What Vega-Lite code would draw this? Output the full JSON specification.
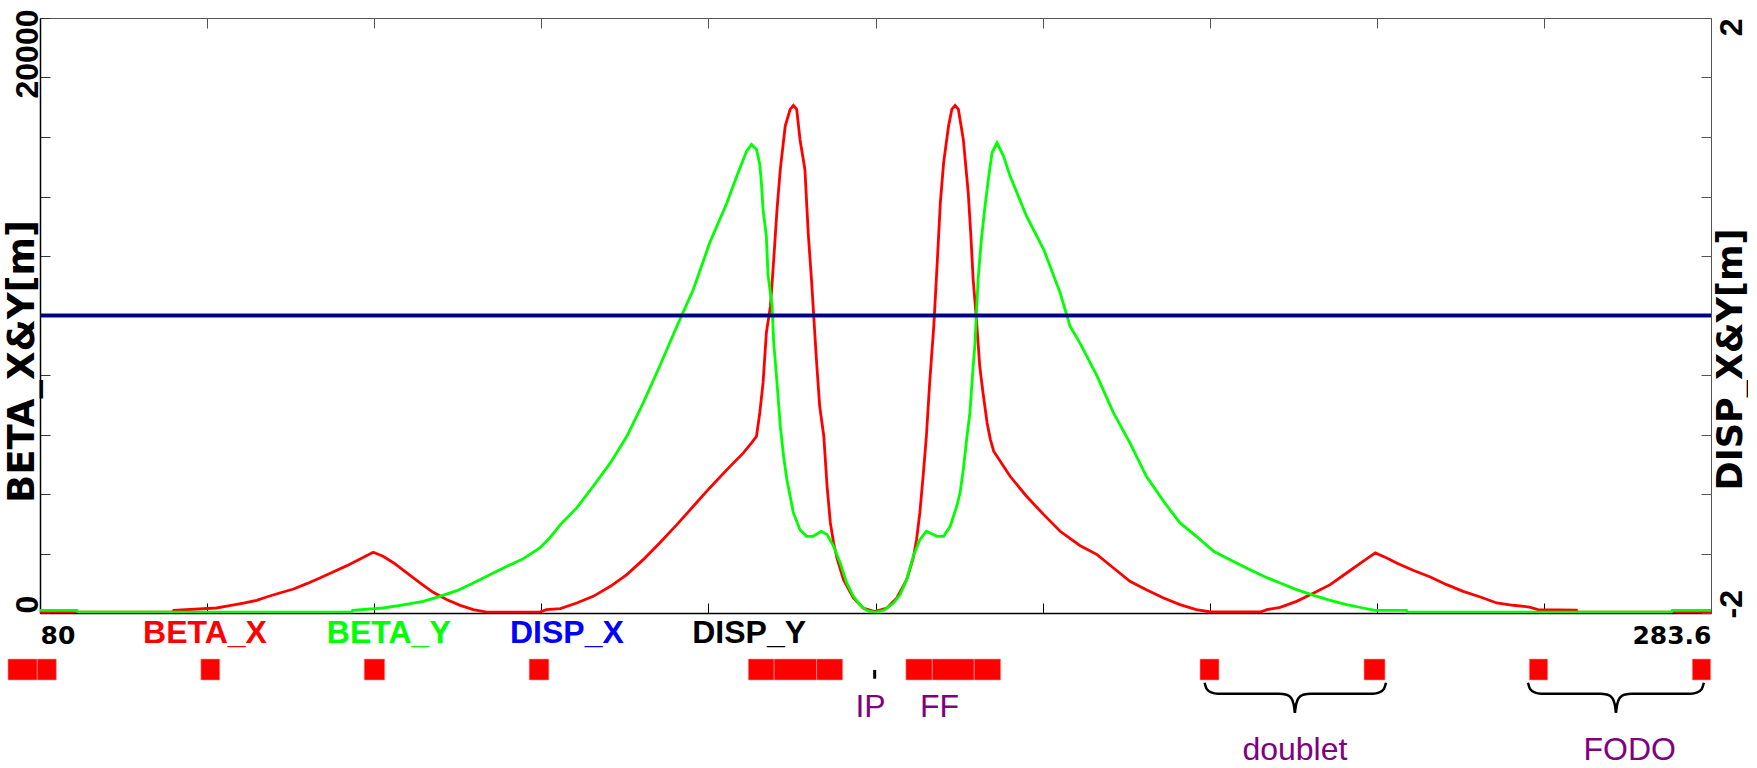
{
  "$schema": "https://vega.github.io/schema/vega-lite/v6.json",
  "background": "white",
  "padding": {"left": 3, "top": 8, "right": 0, "bottom": 0},
  "bounds": "flush",
  "spacing": 25,
  "config": {"view": {"stroke": null}},
  "datasets": {
    "beta": [
      {"curve": "BETA_X", "s": 80, "beta": 30}, {"curve": "BETA_X", "s": 96.2, "beta": 30}, {"curve": "BETA_X", "s": 96.3, "beta": 90},
      {"curve": "BETA_X", "s": 101.5, "beta": 168}, {"curve": "BETA_X", "s": 103.1, "beta": 247}, {"curve": "BETA_X", "s": 104.8, "beta": 336},
      {"curve": "BETA_X", "s": 106.4, "beta": 426}, {"curve": "BETA_X", "s": 107.6, "beta": 538}, {"curve": "BETA_X", "s": 109.2, "beta": 673},
      {"curve": "BETA_X", "s": 110.9, "beta": 807}, {"curve": "BETA_X", "s": 112.5, "beta": 986}, {"curve": "BETA_X", "s": 114.1, "beta": 1177},
      {"curve": "BETA_X", "s": 115.7, "beta": 1379}, {"curve": "BETA_X", "s": 117.4, "beta": 1592}, {"curve": "BETA_X", "s": 119.0, "beta": 1816},
      {"curve": "BETA_X", "s": 120.6, "beta": 2040}, {"curve": "BETA_X", "s": 121.8, "beta": 1906}, {"curve": "BETA_X", "s": 123.1, "beta": 1682},
      {"curve": "BETA_X", "s": 124.7, "beta": 1345}, {"curve": "BETA_X", "s": 126.3, "beta": 1009}, {"curve": "BETA_X", "s": 127.9, "beta": 695},
      {"curve": "BETA_X", "s": 129.6, "beta": 448}, {"curve": "BETA_X", "s": 131.2, "beta": 258}, {"curve": "BETA_X", "s": 132.8, "beta": 112},
      {"curve": "BETA_X", "s": 134.4, "beta": 30}, {"curve": "BETA_X", "s": 140.9, "beta": 30}, {"curve": "BETA_X", "s": 141.7, "beta": 112},
      {"curve": "BETA_X", "s": 143.4, "beta": 150}, {"curve": "BETA_X", "s": 145.4, "beta": 336}, {"curve": "BETA_X", "s": 147.4, "beta": 560},
      {"curve": "BETA_X", "s": 149.5, "beta": 897}, {"curve": "BETA_X", "s": 151.5, "beta": 1289}, {"curve": "BETA_X", "s": 153.5, "beta": 1794},
      {"curve": "BETA_X", "s": 155.5, "beta": 2354}, {"curve": "BETA_X", "s": 157.6, "beta": 2971}, {"curve": "BETA_X", "s": 159.6, "beta": 3587},
      {"curve": "BETA_X", "s": 161.6, "beta": 4204}, {"curve": "BETA_X", "s": 163.7, "beta": 4820}, {"curve": "BETA_X", "s": 165.7, "beta": 5381},
      {"curve": "BETA_X", "s": 166.7, "beta": 5717}, {"curve": "BETA_X", "s": 167.3, "beta": 5941}, {"curve": "BETA_X", "s": 167.7, "beta": 6726},
      {"curve": "BETA_X", "s": 168.1, "beta": 7735}, {"curve": "BETA_X", "s": 168.5, "beta": 9416}, {"curve": "BETA_X", "s": 169.0, "beta": 10313},
      {"curve": "BETA_X", "s": 169.4, "beta": 11883}, {"curve": "BETA_X", "s": 169.8, "beta": 13564}, {"curve": "BETA_X", "s": 170.2, "beta": 14909},
      {"curve": "BETA_X", "s": 170.8, "beta": 16367}, {"curve": "BETA_X", "s": 171.4, "beta": 16927}, {"curve": "BETA_X", "s": 171.8, "beta": 17061},
      {"curve": "BETA_X", "s": 172.2, "beta": 16927}, {"curve": "BETA_X", "s": 172.6, "beta": 15918}, {"curve": "BETA_X", "s": 173.2, "beta": 14909},
      {"curve": "BETA_X", "s": 173.6, "beta": 12779}, {"curve": "BETA_X", "s": 174.0, "beta": 11210}, {"curve": "BETA_X", "s": 174.3, "beta": 9865},
      {"curve": "BETA_X", "s": 174.6, "beta": 8520}, {"curve": "BETA_X", "s": 175.0, "beta": 6950}, {"curve": "BETA_X", "s": 175.5, "beta": 5941},
      {"curve": "BETA_X", "s": 175.9, "beta": 4260}, {"curve": "BETA_X", "s": 176.3, "beta": 3027}, {"curve": "BETA_X", "s": 176.7, "beta": 2354},
      {"curve": "BETA_X", "s": 177.1, "beta": 1850}, {"curve": "BETA_X", "s": 177.9, "beta": 1121}, {"curve": "BETA_X", "s": 179.1, "beta": 504},
      {"curve": "BETA_X", "s": 180.3, "beta": 168}, {"curve": "BETA_X", "s": 181.7, "beta": 45}, {"curve": "BETA_X", "s": 183.2, "beta": 168},
      {"curve": "BETA_X", "s": 184.4, "beta": 504}, {"curve": "BETA_X", "s": 185.6, "beta": 1121}, {"curve": "BETA_X", "s": 186.4, "beta": 1850},
      {"curve": "BETA_X", "s": 186.8, "beta": 2466}, {"curve": "BETA_X", "s": 187.2, "beta": 3363}, {"curve": "BETA_X", "s": 187.6, "beta": 4596},
      {"curve": "BETA_X", "s": 188.0, "beta": 5941}, {"curve": "BETA_X", "s": 188.4, "beta": 7735}, {"curve": "BETA_X", "s": 188.9, "beta": 9641},
      {"curve": "BETA_X", "s": 189.3, "beta": 11658}, {"curve": "BETA_X", "s": 189.7, "beta": 13789}, {"curve": "BETA_X", "s": 190.1, "beta": 15134},
      {"curve": "BETA_X", "s": 190.7, "beta": 16367}, {"curve": "BETA_X", "s": 191.1, "beta": 16927}, {"curve": "BETA_X", "s": 191.5, "beta": 17061},
      {"curve": "BETA_X", "s": 191.9, "beta": 16927}, {"curve": "BETA_X", "s": 192.5, "beta": 15918}, {"curve": "BETA_X", "s": 193.1, "beta": 14125},
      {"curve": "BETA_X", "s": 193.4, "beta": 12779}, {"curve": "BETA_X", "s": 193.7, "beta": 11210}, {"curve": "BETA_X", "s": 194.1, "beta": 9865},
      {"curve": "BETA_X", "s": 194.5, "beta": 8295}, {"curve": "BETA_X", "s": 194.9, "beta": 7399}, {"curve": "BETA_X", "s": 195.4, "beta": 6390},
      {"curve": "BETA_X", "s": 195.8, "beta": 5829}, {"curve": "BETA_X", "s": 196.2, "beta": 5437}, {"curve": "BETA_X", "s": 198.2, "beta": 4596},
      {"curve": "BETA_X", "s": 200.2, "beta": 3924}, {"curve": "BETA_X", "s": 202.3, "beta": 3307}, {"curve": "BETA_X", "s": 204.3, "beta": 2746},
      {"curve": "BETA_X", "s": 206.7, "beta": 2270}, {"curve": "BETA_X", "s": 208.8, "beta": 1962}, {"curve": "BETA_X", "s": 210.8, "beta": 1513},
      {"curve": "BETA_X", "s": 212.8, "beta": 1065}, {"curve": "BETA_X", "s": 214.8, "beta": 785}, {"curve": "BETA_X", "s": 216.9, "beta": 504},
      {"curve": "BETA_X", "s": 218.9, "beta": 280}, {"curve": "BETA_X", "s": 220.9, "beta": 112}, {"curve": "BETA_X", "s": 222.6, "beta": 34},
      {"curve": "BETA_X", "s": 228.7, "beta": 34}, {"curve": "BETA_X", "s": 229.5, "beta": 112}, {"curve": "BETA_X", "s": 231.1, "beta": 191},
      {"curve": "BETA_X", "s": 233.1, "beta": 392}, {"curve": "BETA_X", "s": 235.2, "beta": 673}, {"curve": "BETA_X", "s": 237.2, "beta": 953},
      {"curve": "BETA_X", "s": 239.2, "beta": 1345}, {"curve": "BETA_X", "s": 241.2, "beta": 1738}, {"curve": "BETA_X", "s": 242.7, "beta": 2018},
      {"curve": "BETA_X", "s": 244.1, "beta": 1850}, {"curve": "BETA_X", "s": 245.3, "beta": 1682}, {"curve": "BETA_X", "s": 247.3, "beta": 1435},
      {"curve": "BETA_X", "s": 249.4, "beta": 1211}, {"curve": "BETA_X", "s": 251.4, "beta": 953}, {"curve": "BETA_X", "s": 253.4, "beta": 729},
      {"curve": "BETA_X", "s": 255.5, "beta": 538}, {"curve": "BETA_X", "s": 257.5, "beta": 336}, {"curve": "BETA_X", "s": 259.5, "beta": 260},
      {"curve": "BETA_X", "s": 261.5, "beta": 200}, {"curve": "BETA_X", "s": 262.5, "beta": 112}, {"curve": "BETA_X", "s": 267.2, "beta": 100},
      {"curve": "BETA_X", "s": 267.3, "beta": 30}, {"curve": "BETA_X", "s": 283.6, "beta": 30},

      {"curve": "BETA_Y", "s": 80, "beta": 90}, {"curve": "BETA_Y", "s": 84.5, "beta": 90}, {"curve": "BETA_Y", "s": 84.6, "beta": 30},
      {"curve": "BETA_Y", "s": 118.0, "beta": 30}, {"curve": "BETA_Y", "s": 118.1, "beta": 90}, {"curve": "BETA_Y", "s": 121.8, "beta": 168},
      {"curve": "BETA_Y", "s": 123.9, "beta": 258}, {"curve": "BETA_Y", "s": 126.7, "beta": 392}, {"curve": "BETA_Y", "s": 128.7, "beta": 560},
      {"curve": "BETA_Y", "s": 130.8, "beta": 751}, {"curve": "BETA_Y", "s": 132.8, "beta": 1009}, {"curve": "BETA_Y", "s": 134.8, "beta": 1289},
      {"curve": "BETA_Y", "s": 136.9, "beta": 1569}, {"curve": "BETA_Y", "s": 138.9, "beta": 1827}, {"curve": "BETA_Y", "s": 140.9, "beta": 2186},
      {"curve": "BETA_Y", "s": 142.1, "beta": 2522}, {"curve": "BETA_Y", "s": 143.4, "beta": 2971}, {"curve": "BETA_Y", "s": 145.4, "beta": 3531},
      {"curve": "BETA_Y", "s": 147.4, "beta": 4260}, {"curve": "BETA_Y", "s": 149.5, "beta": 5045}, {"curve": "BETA_Y", "s": 151.5, "beta": 5941},
      {"curve": "BETA_Y", "s": 153.5, "beta": 7062}, {"curve": "BETA_Y", "s": 155.5, "beta": 8295}, {"curve": "BETA_Y", "s": 157.6, "beta": 9641},
      {"curve": "BETA_Y", "s": 159.6, "beta": 10874}, {"curve": "BETA_Y", "s": 161.6, "beta": 12443}, {"curve": "BETA_Y", "s": 163.7, "beta": 13789},
      {"curve": "BETA_Y", "s": 164.9, "beta": 14686}, {"curve": "BETA_Y", "s": 166.1, "beta": 15526}, {"curve": "BETA_Y", "s": 166.7, "beta": 15750},
      {"curve": "BETA_Y", "s": 167.3, "beta": 15582}, {"curve": "BETA_Y", "s": 167.7, "beta": 15077}, {"curve": "BETA_Y", "s": 167.9, "beta": 14451},
      {"curve": "BETA_Y", "s": 168.1, "beta": 13565}, {"curve": "BETA_Y", "s": 168.5, "beta": 12667}, {"curve": "BETA_Y", "s": 168.7, "beta": 11378},
      {"curve": "BETA_Y", "s": 169.2, "beta": 10313}, {"curve": "BETA_Y", "s": 169.4, "beta": 9080}, {"curve": "BETA_Y", "s": 169.8, "beta": 7735},
      {"curve": "BETA_Y", "s": 170.2, "beta": 6278}, {"curve": "BETA_Y", "s": 170.6, "beta": 5269}, {"curve": "BETA_Y", "s": 171.0, "beta": 4484},
      {"curve": "BETA_Y", "s": 171.4, "beta": 3924}, {"curve": "BETA_Y", "s": 171.8, "beta": 3363}, {"curve": "BETA_Y", "s": 172.6, "beta": 2802},
      {"curve": "BETA_Y", "s": 173.4, "beta": 2578}, {"curve": "BETA_Y", "s": 174.2, "beta": 2578}, {"curve": "BETA_Y", "s": 175.2, "beta": 2746},
      {"curve": "BETA_Y", "s": 175.9, "beta": 2634}, {"curve": "BETA_Y", "s": 176.7, "beta": 2242}, {"curve": "BETA_Y", "s": 177.5, "beta": 1682},
      {"curve": "BETA_Y", "s": 178.3, "beta": 1009}, {"curve": "BETA_Y", "s": 179.1, "beta": 560}, {"curve": "BETA_Y", "s": 179.9, "beta": 280},
      {"curve": "BETA_Y", "s": 180.7, "beta": 90}, {"curve": "BETA_Y", "s": 181.7, "beta": 20}, {"curve": "BETA_Y", "s": 182.8, "beta": 90},
      {"curve": "BETA_Y", "s": 184.0, "beta": 336}, {"curve": "BETA_Y", "s": 184.8, "beta": 617}, {"curve": "BETA_Y", "s": 185.6, "beta": 1121},
      {"curve": "BETA_Y", "s": 186.4, "beta": 1906}, {"curve": "BETA_Y", "s": 187.2, "beta": 2466}, {"curve": "BETA_Y", "s": 188.0, "beta": 2746},
      {"curve": "BETA_Y", "s": 189.3, "beta": 2578}, {"curve": "BETA_Y", "s": 190.1, "beta": 2578}, {"curve": "BETA_Y", "s": 190.9, "beta": 2915},
      {"curve": "BETA_Y", "s": 191.7, "beta": 3587}, {"curve": "BETA_Y", "s": 192.1, "beta": 4036}, {"curve": "BETA_Y", "s": 192.5, "beta": 4820},
      {"curve": "BETA_Y", "s": 192.9, "beta": 5829}, {"curve": "BETA_Y", "s": 193.3, "beta": 6726}, {"curve": "BETA_Y", "s": 193.7, "beta": 8295},
      {"curve": "BETA_Y", "s": 193.9, "beta": 8968}, {"curve": "BETA_Y", "s": 194.1, "beta": 10089}, {"curve": "BETA_Y", "s": 194.3, "beta": 11210},
      {"curve": "BETA_Y", "s": 194.7, "beta": 12555}, {"curve": "BETA_Y", "s": 195.1, "beta": 13565}, {"curve": "BETA_Y", "s": 195.6, "beta": 14686},
      {"curve": "BETA_Y", "s": 196.0, "beta": 15470}, {"curve": "BETA_Y", "s": 196.6, "beta": 15806}, {"curve": "BETA_Y", "s": 197.4, "beta": 15358},
      {"curve": "BETA_Y", "s": 198.2, "beta": 14686}, {"curve": "BETA_Y", "s": 200.2, "beta": 13341}, {"curve": "BETA_Y", "s": 202.3, "beta": 12219},
      {"curve": "BETA_Y", "s": 204.3, "beta": 10762}, {"curve": "BETA_Y", "s": 205.5, "beta": 9641}, {"curve": "BETA_Y", "s": 206.7, "beta": 9080},
      {"curve": "BETA_Y", "s": 208.8, "beta": 7959}, {"curve": "BETA_Y", "s": 210.8, "beta": 6726}, {"curve": "BETA_Y", "s": 212.8, "beta": 5717},
      {"curve": "BETA_Y", "s": 214.8, "beta": 4596}, {"curve": "BETA_Y", "s": 216.9, "beta": 3755}, {"curve": "BETA_Y", "s": 218.9, "beta": 3027},
      {"curve": "BETA_Y", "s": 220.9, "beta": 2578}, {"curve": "BETA_Y", "s": 223.0, "beta": 2074}, {"curve": "BETA_Y", "s": 225.0, "beta": 1794},
      {"curve": "BETA_Y", "s": 227.0, "beta": 1513}, {"curve": "BETA_Y", "s": 229.1, "beta": 1233}, {"curve": "BETA_Y", "s": 231.1, "beta": 1009},
      {"curve": "BETA_Y", "s": 233.1, "beta": 785}, {"curve": "BETA_Y", "s": 235.2, "beta": 594}, {"curve": "BETA_Y", "s": 237.2, "beta": 426},
      {"curve": "BETA_Y", "s": 239.2, "beta": 280}, {"curve": "BETA_Y", "s": 241.2, "beta": 168}, {"curve": "BETA_Y", "s": 242.7, "beta": 90},
      {"curve": "BETA_Y", "s": 246.5, "beta": 90}, {"curve": "BETA_Y", "s": 246.6, "beta": 30}, {"curve": "BETA_Y", "s": 278.8, "beta": 30},
      {"curve": "BETA_Y", "s": 278.9, "beta": 90}, {"curve": "BETA_Y", "s": 283.6, "beta": 90}
    ],
    "disp": [
      {"curve": "DISP_X", "s": 80, "disp": 0}, {"curve": "DISP_X", "s": 283.6, "disp": 0},
      {"curve": "DISP_Y", "s": 80, "disp": 0}, {"curve": "DISP_Y", "s": 283.6, "disp": 0}
    ],
    "legend": [
      {"curve": "BETA_X", "s": 100.1}, {"curve": "BETA_Y", "s": 122.5},
      {"curve": "DISP_X", "s": 144.2}, {"curve": "DISP_Y", "s": 166.4}
    ],
    "elements": [
      {"name": "Q0a", "s0": 76.1, "s1": 79.67}, {"name": "Q0b", "s0": 79.67, "s1": 81.99},
      {"name": "Q1", "s0": 99.6, "s1": 101.9}, {"name": "Q2", "s0": 119.5, "s1": 122.0},
      {"name": "Q3", "s0": 139.6, "s1": 142.0},
      {"name": "FF1L", "s0": 166.3, "s1": 169.45}, {"name": "FF2L", "s0": 169.45, "s1": 174.63}, {"name": "FF3L", "s0": 174.63, "s1": 177.8},
      {"name": "FF3R", "s0": 185.5, "s1": 188.72}, {"name": "FF2R", "s0": 188.72, "s1": 193.83}, {"name": "FF1R", "s0": 193.83, "s1": 197.05},
      {"name": "D1", "s0": 221.34, "s1": 223.65}, {"name": "D2", "s0": 241.32, "s1": 243.88},
      {"name": "F1", "s0": 261.46, "s1": 263.7}, {"name": "F2", "s0": 281.32, "s1": 283.56}
    ],
    "braces": [
      {"part": "doublet-L", "s": 221.9, "lvl": 2.13}, {"part": "doublet-L", "s": 222.15, "lvl": 2.42}, {"part": "doublet-L", "s": 222.7, "lvl": 2.59},
      {"part": "doublet-L", "s": 223.5, "lvl": 2.65}, {"part": "doublet-L", "s": 224.0, "lvl": 2.65}, {"part": "doublet-L", "s": 230.95, "lvl": 2.65},
      {"part": "doublet-L", "s": 231.9, "lvl": 2.7}, {"part": "doublet-L", "s": 232.45, "lvl": 2.86}, {"part": "doublet-L", "s": 232.75, "lvl": 3.15},
      {"part": "doublet-L", "s": 232.9, "lvl": 3.56},
      {"part": "doublet-R", "s": 232.9, "lvl": 3.56}, {"part": "doublet-R", "s": 233.05, "lvl": 3.15}, {"part": "doublet-R", "s": 233.35, "lvl": 2.86},
      {"part": "doublet-R", "s": 233.9, "lvl": 2.7}, {"part": "doublet-R", "s": 234.85, "lvl": 2.65}, {"part": "doublet-R", "s": 241.9, "lvl": 2.65},
      {"part": "doublet-R", "s": 242.4, "lvl": 2.65}, {"part": "doublet-R", "s": 243.2, "lvl": 2.59}, {"part": "doublet-R", "s": 243.75, "lvl": 2.42},
      {"part": "doublet-R", "s": 244.0, "lvl": 2.13},
      {"part": "FODO-L", "s": 261.3, "lvl": 2.13}, {"part": "FODO-L", "s": 261.55, "lvl": 2.42}, {"part": "FODO-L", "s": 262.1, "lvl": 2.59},
      {"part": "FODO-L", "s": 262.9, "lvl": 2.65}, {"part": "FODO-L", "s": 263.4, "lvl": 2.65}, {"part": "FODO-L", "s": 270.07, "lvl": 2.65},
      {"part": "FODO-L", "s": 271.02, "lvl": 2.7}, {"part": "FODO-L", "s": 271.57, "lvl": 2.86}, {"part": "FODO-L", "s": 271.87, "lvl": 3.15},
      {"part": "FODO-L", "s": 272.02, "lvl": 3.56},
      {"part": "FODO-R", "s": 272.02, "lvl": 3.56}, {"part": "FODO-R", "s": 272.17, "lvl": 3.15}, {"part": "FODO-R", "s": 272.47, "lvl": 2.86},
      {"part": "FODO-R", "s": 273.02, "lvl": 2.7}, {"part": "FODO-R", "s": 273.97, "lvl": 2.65}, {"part": "FODO-R", "s": 280.63, "lvl": 2.65},
      {"part": "FODO-R", "s": 281.13, "lvl": 2.65}, {"part": "FODO-R", "s": 281.93, "lvl": 2.59}, {"part": "FODO-R", "s": 282.48, "lvl": 2.42},
      {"part": "FODO-R", "s": 282.73, "lvl": 2.13}
    ],
    "ip": [{"name": "IP", "s": 181.7}],
    "nearNotes": [{"text": "IP", "s": 181.2}, {"text": "FF", "s": 189.6}],
    "farNotes": [{"text": "doublet", "s": 232.9}, {"text": "FODO", "s": 273.7}]
  },
  "vconcat": [
    {
      "width": 1671,
      "height": 595,
      "layer": [
        {
          "layer": [
            {
              "data": {"name": "beta"},
              "transform": [{"filter": "datum.curve == 'BETA_X'"}],
              "mark": {"type": "line", "strokeWidth": 2.8, "clip": true},
              "encoding": {
                "x": {
                  "field": "s", "type": "quantitative",
                  "scale": {"domain": [80, 283.6], "nice": false, "zero": false},
                  "axis": {
                    "title": null, "grid": false,
                    "values": [80, 100.36, 120.72, 141.08, 161.44, 181.8, 202.16, 222.52, 242.88, 263.24, 283.6],
                    "labelExpr": "datum.value == 80 ? '80' : (datum.value == 283.6 ? '283.6' : '')",
                    "labelFlush": true, "labelOverlap": false, "labelBound": false,
                    "labelFont": "DejaVu Sans", "labelFontWeight": "bold", "labelFontSize": 25, "labelColor": "black",
                    "labelBaseline": "alphabetic", "labelPadding": 40,
                    "tickSize": -10, "tickColor": "black", "tickWidth": 1,
                    "domainColor": "black", "domainWidth": 1.5
                  }
                },
                "y": {
                  "field": "beta", "type": "quantitative",
                  "scale": {"domain": [0, 20000], "nice": false, "zero": false},
                  "axis": {
                    "title": "BETA_X&Y[m]", "grid": false,
                    "values": [0, 2000, 4000, 6000, 8000, 10000, 12000, 14000, 16000, 18000, 20000],
                    "labelExpr": "datum.value == 0 ? '0' : (datum.value == 20000 ? '20000' : '')",
                    "labelAngle": 270, "labelOverlap": false, "labelBound": false,
                    "labelAlign": {"condition": {"test": "datum.value == 0", "value": "left"}, "value": "right"},
                    "labelOffset": {"condition": {"test": "datum.value == 20000", "value": -9}, "value": 0},
                    "labelBaseline": "alphabetic", "labelPadding": 13,
                    "labelFont": "Liberation Sans", "labelFontWeight": "bold", "labelFontSize": 32, "labelColor": "black",
                    "tickSize": -10, "tickColor": "#333333", "tickWidth": 1,
                    "domainColor": "black", "domainWidth": 1.5,
                    "titleFont": "DejaVu Sans", "titleFontWeight": "bold", "titleFontSize": 37, "titleColor": "black",
                    "titleAngle": 270, "titleAlign": "center", "titleBaseline": "alphabetic",
                    "titleX": -7, "titleY": 343
                  }
                },
                "color": {
                  "field": "curve", "type": "nominal", "legend": null,
                  "scale": {"domain": ["BETA_X", "BETA_Y", "DISP_X", "DISP_Y"], "range": ["#ff0000", "#00ff00", "#0000ff", "#000000"]}
                }
              }
            },
            {
              "data": {"name": "beta"},
              "transform": [{"filter": "datum.curve == 'BETA_Y'"}],
              "mark": {"type": "line", "strokeWidth": 2.8, "clip": true},
              "encoding": {
                "x": {"field": "s", "type": "quantitative"},
                "y": {"field": "beta", "type": "quantitative"},
                "color": {"field": "curve", "type": "nominal", "legend": null}
              }
            },
            {
              "data": {"name": "legend"},
              "mark": {"type": "text", "align": "center", "baseline": "alphabetic", "dy": 30, "font": "Liberation Sans", "fontWeight": "bold", "fontSize": 32},
              "encoding": {
                "x": {"field": "s", "type": "quantitative"},
                "y": {"datum": 0, "type": "quantitative"},
                "text": {"field": "curve"},
                "color": {"field": "curve", "type": "nominal", "legend": null}
              }
            }
          ]
        },
        {
          "layer": [
            {
              "data": {"name": "disp"},
              "transform": [{"filter": "datum.curve == 'DISP_X'"}],
              "mark": {"type": "line", "strokeWidth": 4},
              "encoding": {
                "x": {
                  "field": "s", "type": "quantitative",
                  "axis": {
                    "orient": "top", "title": null, "grid": false, "labels": false,
                    "values": [80, 100.36, 120.72, 141.08, 161.44, 181.8, 202.16, 222.52, 242.88, 263.24, 283.6],
                    "tickSize": -10, "tickColor": "#555555", "tickWidth": 1,
                    "domainColor": "#555555", "domainWidth": 1
                  }
                },
                "y": {
                  "field": "disp", "type": "quantitative",
                  "scale": {"domain": [-2, 2], "nice": false, "zero": false},
                  "axis": {
                    "orient": "right", "title": "DISP_X&Y[m]", "grid": false,
                    "values": [-2, -1.6, -1.2, -0.8, -0.4, 0, 0.4, 0.8, 1.2, 1.6, 2],
                    "labelExpr": "datum.value == -2 ? '-2' : (datum.value == 2 ? '2' : '')",
                    "labelAngle": 270, "labelOverlap": false, "labelBound": false,
                    "labelAlign": {"condition": {"test": "datum.value == -2", "value": "left"}, "value": "right"},
                    "labelOffset": {"condition": {"test": "datum.value == -2", "value": 5}, "value": 0},
                    "labelBaseline": "top", "labelPadding": 15,
                    "labelFont": "Liberation Sans", "labelFontWeight": "bold", "labelFontSize": 32, "labelColor": "black",
                    "tickSize": -10, "tickColor": "#555555", "tickWidth": 1,
                    "domainColor": "#555555", "domainWidth": 1,
                    "titleFont": "DejaVu Sans", "titleFontWeight": "bold", "titleFontSize": 35, "titleColor": "black",
                    "titleAngle": 270, "titleAlign": "center", "titleBaseline": "top",
                    "titleX": 2, "titleY": 341
                  }
                },
                "color": {"field": "curve", "type": "nominal", "legend": null}
              }
            },
            {
              "data": {"name": "disp"},
              "transform": [{"filter": "datum.curve == 'DISP_Y'"}],
              "mark": {"type": "line", "strokeWidth": 3, "opacity": 0.5},
              "encoding": {
                "x": {"field": "s", "type": "quantitative"},
                "y": {"field": "disp", "type": "quantitative"},
                "color": {"field": "curve", "type": "nominal", "legend": null}
              }
            }
          ]
        }
      ],
      "resolve": {"scale": {"y": "independent"}, "axis": {"x": "independent", "y": "independent"}}
    },
    {
      "width": 1671,
      "height": 126,
      "layer": [
        {
          "data": {"name": "elements"},
          "mark": {"type": "rect", "color": "#ff0000", "stroke": "#ff9a9a", "strokeWidth": 0.6},
          "encoding": {
            "x": {"field": "s0", "type": "quantitative", "scale": {"domain": [80, 283.6], "nice": false, "zero": false}, "axis": null},
            "x2": {"field": "s1"},
            "y": {"datum": 1, "type": "quantitative", "scale": {"domain": [0, 6], "reverse": true, "nice": false, "zero": false}, "axis": null},
            "y2": {"datum": 2}
          }
        },
        {
          "data": {"name": "ip"},
          "mark": {"type": "rule", "color": "black", "strokeWidth": 3},
          "encoding": {
            "x": {"field": "s", "type": "quantitative"},
            "y": {"datum": 1.52, "type": "quantitative"},
            "y2": {"datum": 1.94}
          }
        },
        {
          "data": {"name": "braces"},
          "mark": {"type": "line", "color": "black", "strokeWidth": 2.5, "interpolate": "monotone"},
          "encoding": {
            "x": {"field": "s", "type": "quantitative"},
            "y": {"field": "lvl", "type": "quantitative"},
            "detail": {"field": "part"}
          }
        },
        {
          "data": {"name": "nearNotes"},
          "mark": {"type": "text", "align": "center", "baseline": "alphabetic", "font": "Liberation Sans", "fontSize": 32, "color": "#800080"},
          "encoding": {
            "x": {"field": "s", "type": "quantitative"},
            "y": {"datum": 3.78, "type": "quantitative"},
            "text": {"field": "text"}
          }
        },
        {
          "data": {"name": "farNotes"},
          "mark": {"type": "text", "align": "center", "baseline": "alphabetic", "font": "Liberation Sans", "fontSize": 32, "color": "#800080"},
          "encoding": {
            "x": {"field": "s", "type": "quantitative"},
            "y": {"datum": 5.83, "type": "quantitative"},
            "text": {"field": "text"}
          }
        }
      ]
    }
  ]
}
